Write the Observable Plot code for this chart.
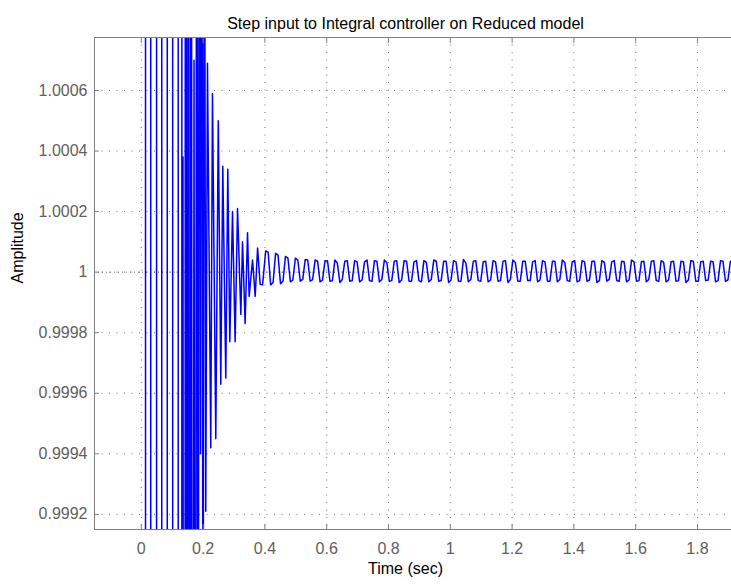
<!DOCTYPE html>
<html>
<head>
<meta charset="utf-8">
<script src="https://cdn.jsdelivr.net/npm/d3@7"></script>
<script src="https://cdn.jsdelivr.net/npm/@observablehq/plot@0.6"></script>
<style>
  html, body { margin: 0; padding: 0; background: #fff; overflow: hidden; width: 731px; height: 586px; }
  #chart { width: 731px; height: 586px; overflow: hidden; }
  #chart svg { display: block; max-width: none !important; width: 770px !important; height: 586px !important; }
</style>
</head>
<body>
<div id="chart"></div>
<script>
// ---- Chart text ----
const titleText = ["Step input to Integral controller on Reduced model"];
const xLabelText = ["Time (sec)"];
const yLabelText = ["Amplitude"];

// ---- Axis ticks ----
const xTicks = [0, 0.2, 0.4, 0.6, 0.8, 1, 1.2, 1.4, 1.6, 1.8];
const xTickLabels = ["0", "0.2", "0.4", "0.6", "0.8", "1", "1.2", "1.4", "1.6", "1.8"];
const yTicks = [0.9992, 0.9994, 0.9996, 0.9998, 1, 1.0002, 1.0004, 1.0006];
const yTickLabels = ["0.9992", "0.9994", "0.9996", "0.9998", "1", "1.0002", "1.0004", "1.0006"];
const finalValue = [1];

// ---- Step response (time in s, amplitude) ----
const time = [
  0, 0.0221, 0.0399, 0.0568, 0.0746, 0.0924, 0.1096, 0.1268,
  0.1314, 0.1349, 0.1392, 0.1437, 0.1479, 0.1521, 0.1567, 0.1612, 0.1657, 0.1706,
  0.1748, 0.1794, 0.1839, 0.1878, 0.1917, 0.1956, 0.1998, 0.2037, 0.2086, 0.2141,
  0.2248, 0.2303, 0.2410, 0.2491, 0.2572, 0.2637, 0.2734, 0.2799, 0.2864,
  0.2952, 0.3036, 0.3114, 0.3221, 0.3276, 0.3360, 0.3438, 0.3490, 0.3600,
  0.3685, 0.3763, 0.3847, 0.3925,
  0.4025,0.4105,0.4185,0.4265, 0.4345,0.4425,0.4505,0.4585, 0.4665,0.4745,0.4825,0.4905,
  0.4985,0.5065,0.5145,0.5225, 0.5305,0.5385,0.5465,0.5545, 0.5625,0.5705,0.5785,0.5865,
  0.5945,0.6025,0.6105,0.6185, 0.6265,0.6345,0.6425,0.6505, 0.6585,0.6665,0.6745,0.6825,
  0.6905,0.6985,0.7065,0.7145, 0.7225,0.7305,0.7385,0.7465, 0.7545,0.7625,0.7705,0.7785,
  0.7865,0.7945,0.8025,0.8105, 0.8185,0.8265,0.8345,0.8425, 0.8505,0.8585,0.8665,0.8745,
  0.8825,0.8905,0.8985,0.9065, 0.9145,0.9225,0.9305,0.9385, 0.9465,0.9545,0.9625,0.9705,
  0.9785,0.9865,0.9945,1.0025, 1.0105,1.0185,1.0265,1.0345, 1.0425,1.0505,1.0585,1.0665,
  1.0745,1.0825,1.0905,1.0985, 1.1065,1.1145,1.1225,1.1305, 1.1385,1.1465,1.1545,1.1625,
  1.1705,1.1785,1.1865,1.1945, 1.2025,1.2105,1.2185,1.2265, 1.2345,1.2425,1.2505,1.2585,
  1.2665,1.2745,1.2825,1.2905, 1.2985,1.3065,1.3145,1.3225, 1.3305,1.3385,1.3465,1.3545,
  1.3625,1.3705,1.3785,1.3865, 1.3945,1.4025,1.4105,1.4185, 1.4265,1.4345,1.4425,1.4505,
  1.4585,1.4665,1.4745,1.4825, 1.4905,1.4985,1.5065,1.5145, 1.5225,1.5305,1.5385,1.5465,
  1.5545,1.5625,1.5705,1.5785, 1.5865,1.5945,1.6025,1.6105, 1.6185,1.6265,1.6345,1.6425,
  1.6505,1.6585,1.6665,1.6745, 1.6825,1.6905,1.6985,1.7065, 1.7145,1.7225,1.7305,1.7385,
  1.7465,1.7545,1.7625,1.7705, 1.7785,1.7865,1.7945,1.8025, 1.8105,1.8185,1.8265,1.8345,
  1.8425,1.8505,1.8585,1.8665, 1.8745,1.8825,1.8905,1.8985, 1.9065,1.9145,1.9225,1.9305,
  1.9385,1.9465,1.9545
];
const amplitude = [
  0, 1.62, 0.30, 1.55, 0.50, 1.45, 0.60, 1.30,
  0.99, 1.00038, 0.99, 1.006, 0.993, 1.005, 0.994, 1.004, 0.995, 1.0007,
  0.996, 1.003, 0.997, 1.003, 0.9994, 1.0025, 0.998, 1.002, 0.99921, 1.00069,
  0.99942, 1.00059, 0.99945, 1.0005, 0.99963, 1.00035, 0.99965, 1.00034, 0.99977,
  1.0002, 0.99977, 1.00021, 0.99986, 1.0001, 0.99983, 1.00013, 0.99992, 1.00004,
  0.99992, 1.00008, 0.99996, 0.999958,
  1.000070,1.000066,0.999958,0.999966, 1.000062,1.000056,0.999962,0.999970, 1.000052,1.000046,0.999968,0.999974,
  1.000046,1.000040,0.999970,0.999976, 1.000042,1.000040,0.999970,0.999975, 1.000040,1.000036,0.999968,0.999974,
  1.000038,1.000038,0.999970,0.999972, 1.000040,1.000030,0.999966,0.999976, 1.000036,1.000038,0.999970,0.999972,
  1.000038,1.000034,0.999968,0.999974, 1.000034,1.000040,0.999972,0.999970, 1.000038,1.000036,0.999968,0.999976,
  1.000040,1.000032,0.999970,0.999972, 1.000036,1.000038,0.999966,0.999974, 1.000038,1.000036,0.999970,0.999970,
  1.000034,1.000038,0.999972,0.999968, 1.000038,1.000032,0.999968,0.999976, 1.000040,1.000036,0.999970,0.999972,
  1.000036,1.000036,0.999966,0.999974, 1.000038,1.000034,0.999970,0.999970, 1.000042,1.000030,0.999968,0.999976,
  1.000036,1.000038,0.999972,0.999970, 1.000034,1.000036,0.999968,0.999974, 1.000038,1.000034,0.999970,0.999972,
  1.000036,1.000038,0.999966,0.999976, 1.000040,1.000032,0.999970,0.999970, 1.000036,1.000036,0.999972,0.999972,
  1.000034,1.000038,0.999968,0.999974, 1.000038,1.000034,0.999970,0.999970, 1.000036,1.000036,0.999968,0.999976,
  1.000040,1.000032,0.999972,0.999970, 1.000034,1.000038,0.999968,0.999972, 1.000038,1.000034,0.999970,0.999974,
  1.000036,1.000036,0.999966,0.999972, 1.000038,1.000032,0.999970,0.999976, 1.000034,1.000038,0.999972,0.999970,
  1.000036,1.000034,0.999968,0.999974, 1.000040,1.000034,0.999970,0.999972, 1.000034,1.000036,0.999968,0.999976,
  1.000036,1.000038,0.999972,0.999970, 1.000038,1.000032,0.999968,0.999974, 1.000034,1.000036,0.999970,0.999972,
  1.000036,1.000034,0.999966,0.999974, 1.000038,1.000036,0.999970,0.999970, 1.000034,1.000036,0.999972,0.999974,
  1.000036,1.000034,0.999968,0.999972, 1.000038,1.000036,0.999970,0.999974, 1.000036,1.000034,0.999970,0.999974,
  1.000036,1.000034,0.999970
];

const axisGray = "#7f7f7f";
const labelGray = "#606060";
const gridStyle = {stroke: "#000", strokeOpacity: 0.55, strokeDasharray: "1,6.5"};

const chart = Plot.plot({
  width: 770,
  height: 586,
  marginLeft: 94,
  marginRight: 16,
  marginTop: 37,
  marginBottom: 57,
  x: {domain: [-0.1515, 1.9845], axis: null},
  y: {domain: [0.99915, 1.000775], axis: null},
  style: {fontFamily: "'Liberation Sans', Arial, sans-serif", fontSize: "16px", background: "#fff", maxWidth: "none"},
  marks: [
    Plot.gridX(xTicks, gridStyle),
    Plot.gridY(yTicks, gridStyle),
    Plot.ruleY(finalValue, {stroke: "#000", strokeOpacity: 0.6, strokeDasharray: "1,3"}),
    Plot.line({length: time.length}, {x: time, y: amplitude, stroke: "#0000ff", strokeWidth: 1.5, clip: true}),
    Plot.frame({stroke: axisGray}),
    // inward tick marks on the visible sides
    Plot.axisX(xTicks, {anchor: "bottom", tickSize: -5, stroke: axisGray, tickFormat: () => "", label: null}),
    Plot.axisX(xTicks, {anchor: "top", tickSize: -5, stroke: axisGray, tickFormat: () => "", label: null}),
    Plot.axisY(yTicks, {anchor: "left", tickSize: -5, stroke: axisGray, tickFormat: () => "", label: null}),
    // tick labels
    Plot.axisX(xTicks, {anchor: "bottom", tickSize: 0, tickPadding: 13, fill: labelGray, fontSize: 16,
      tickFormat: d => xTickLabels[xTicks.indexOf(d)], label: null}),
    Plot.axisY(yTicks, {anchor: "left", tickSize: 0, tickPadding: 7, fill: labelGray, fontSize: 16,
      tickFormat: d => yTickLabels[yTicks.indexOf(d)], label: null}),
    // title and axis titles (centred on x = 413 like the reference)
    Plot.text(titleText, {text: d => d, frameAnchor: "top", dx: -19, dy: -20, fontSize: 16, fill: "#000"}),
    Plot.text(xLabelText, {text: d => d, frameAnchor: "bottom", dx: -19, dy: 44, fontSize: 16, fill: "#000"}),
    Plot.text(yLabelText, {text: d => d, frameAnchor: "left", dx: -77, rotate: -90, fontSize: 16, fill: "#000"})
  ]
});
document.getElementById("chart").appendChild(chart);
</script>
</body>
</html>
